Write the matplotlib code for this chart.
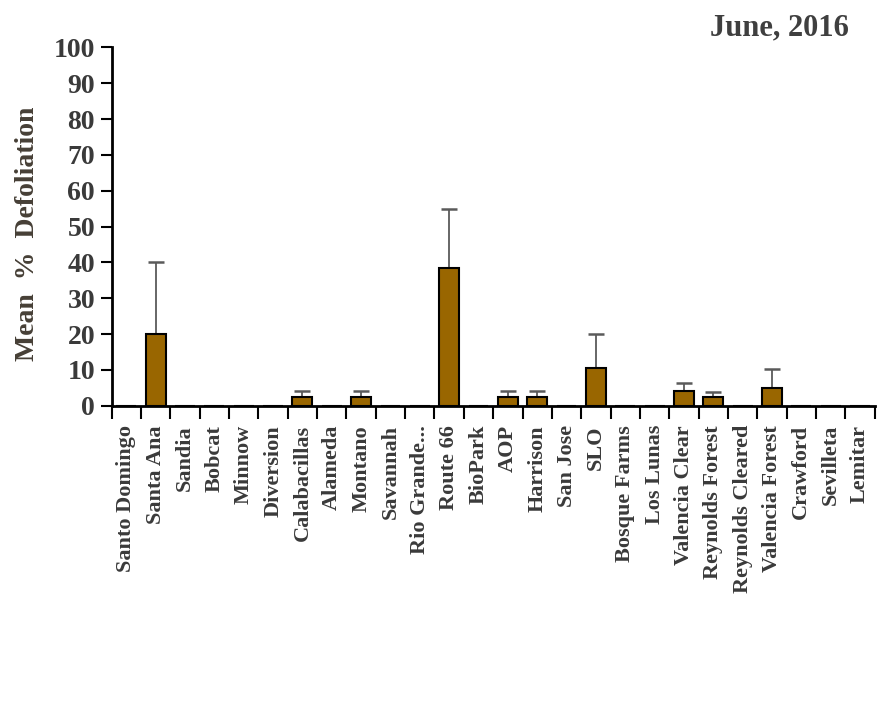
import matplotlib
matplotlib.use("Agg")
import matplotlib.pyplot as plt
import numpy as np

# sites along the river, north to south
sites = ["Santo Domingo", "Santa Ana", "Sandia", "Bobcat", "Minnow", "Diversion",
         "Calabacillas", "Alameda", "Montano", "Savannah", "Rio Grande...", "Route 66",
         "BioPark", "AOP", "Harrison", "San Jose", "SLO", "Bosque Farms", "Los Lunas",
         "Valencia Clear", "Reynolds Forest", "Reynolds Cleared", "Valencia Forest",
         "Crawford", "Sevilleta", "Lemitar"]
mean_defol = [0, 20, 0, 0, 0, 0, 2.5, 0, 2.5, 0, 0, 38.5, 0, 2.5, 2.5, 0, 10.5,
              0, 0, 4, 2.5, 0, 5, 0, 0, 0]
err_upper = [0, 20, 0, 0, 0, 0, 1.5, 0, 1.5, 0, 0, 16.5, 0, 1.5, 1.5, 0, 9.5,
             0, 0, 2.4, 1.4, 0, 5.3, 0, 0, 0]
title = "June, 2016"

txt_color = "#3a3a3a"
plt.rcParams["font.family"] = ["Liberation Serif", "DejaVu Serif"]
plt.rcParams["font.weight"] = "bold"

fig = plt.figure(figsize=(8.87, 7.18), dpi=100)
ax = fig.add_axes([0.126, 0.435, 0.86, 0.499])

x = np.arange(len(sites))
ax.bar(x, mean_defol, width=0.68, color="#996600", edgecolor="black", linewidth=1.5, zorder=2)
has_err = np.array(err_upper) > 0
ax.errorbar(x[has_err], np.array(mean_defol)[has_err],
            yerr=[np.zeros(has_err.sum()), np.array(err_upper)[has_err]],
            fmt="none", ecolor="#5a5a5a", elinewidth=1.3, capsize=6, capthick=1.8, zorder=1)

ax.set_xlim(-0.5, len(sites) - 0.5)
ax.set_ylim(0, 100)
ax.set_yticks(np.arange(0, 101, 10))
ax.tick_params(axis="y", length=8, width=1.5, pad=4, labelsize=20, labelcolor=txt_color)

# labels at the centres, tick marks at the category boundaries
ax.set_xticks(x)
ax.set_xticklabels(sites, rotation=90, fontsize=16, color=txt_color)
ax.tick_params(axis="x", which="major", length=0, pad=14)
ax.set_xticks(np.arange(-0.5, len(sites), 1), minor=True)
ax.tick_params(axis="x", which="minor", length=9, width=1.5)

for side in ["top", "right"]:
    ax.spines[side].set_visible(False)
for side in ["left", "bottom"]:
    ax.spines[side].set_linewidth(2)

fig.text(0.031, 0.675, "Mean  %  Defoliation", rotation=90, ha="center", va="center",
         fontsize=20, color="#463f36")
fig.text(0.879, 0.961, title, ha="center", va="center", fontsize=22, color="#3f3f3f")

fig.savefig("out.png", dpi=100)
